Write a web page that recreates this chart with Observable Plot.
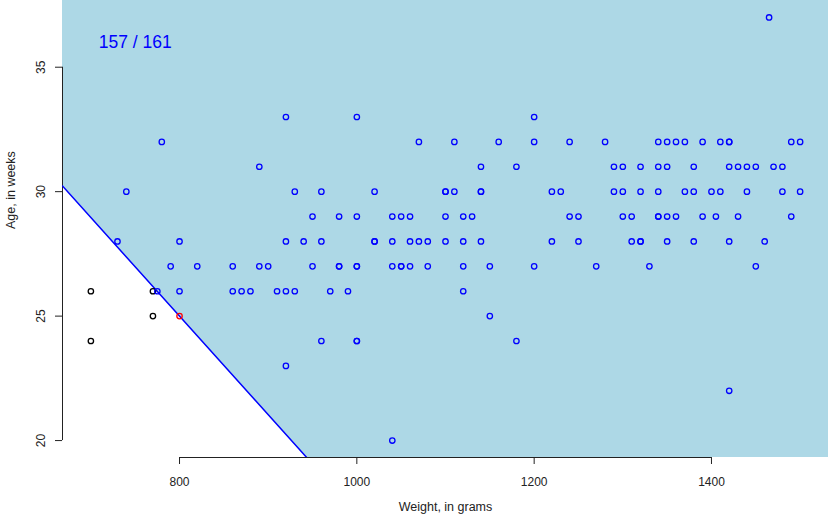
<!DOCTYPE html>
<html>
<head>
<meta charset="utf-8">
<script src="https://cdn.jsdelivr.net/npm/d3@7"></script>
<script src="https://cdn.jsdelivr.net/npm/@observablehq/plot@0.6"></script>
<style>
  html, body { margin: 0; padding: 0; background: white; }
</style>
</head>
<body>
<div id="chart"></div>
<script>
// ---- data ----
const xTicks = [800, 1000, 1200, 1400];
const yTicks = [20, 25, 30, 35];
const xDomain = [668, 1532];
const yDomain = [19.32, 37.68];

// separating line: age = intercept + slope * weight
const lineIntercept = 56.68;
const lineSlope = -0.0396;

// points above the line (blue)
const blueWeight = [
  1465,
  920, 1000, 1200,
  780, 1070, 1110, 1160, 1200, 1240, 1280, 1340, 1350, 1360, 1370, 1390, 1410, 1420, 1420, 1490, 1500,
  890, 1140, 1180, 1290, 1300, 1320, 1340, 1350, 1380, 1420, 1430, 1440, 1450, 1470, 1480,
  740, 930, 960, 1020, 1100, 1100, 1110, 1140, 1140, 1220, 1230, 1290, 1300, 1320, 1340, 1370, 1380, 1400, 1410, 1440, 1480, 1500,
  950, 980, 1000, 1040, 1050, 1060, 1100, 1120, 1130, 1240, 1250, 1300, 1310, 1340, 1340, 1350, 1360, 1390, 1405, 1430, 1490,
  730, 800, 920, 940, 960, 1020, 1020, 1040, 1060, 1070, 1080, 1100, 1120, 1140, 1220, 1250, 1310, 1320, 1320, 1350, 1380, 1420, 1460,
  790, 820, 860, 890, 900, 950, 980, 980, 1000, 1000, 1040, 1050, 1050, 1060, 1080, 1120, 1150, 1200, 1270, 1330, 1450,
  775, 800, 860, 870, 880, 910, 920, 930, 970, 990, 1120,
  1150,
  960, 1000, 1000, 1180,
  920,
  1420,
  1040
];
const blueAge = [
  37,
  33, 33, 33,
  32, 32, 32, 32, 32, 32, 32, 32, 32, 32, 32, 32, 32, 32, 32, 32, 32,
  31, 31, 31, 31, 31, 31, 31, 31, 31, 31, 31, 31, 31, 31, 31,
  30, 30, 30, 30, 30, 30, 30, 30, 30, 30, 30, 30, 30, 30, 30, 30, 30, 30, 30, 30, 30, 30,
  29, 29, 29, 29, 29, 29, 29, 29, 29, 29, 29, 29, 29, 29, 29, 29, 29, 29, 29, 29, 29,
  28, 28, 28, 28, 28, 28, 28, 28, 28, 28, 28, 28, 28, 28, 28, 28, 28, 28, 28, 28, 28, 28, 28,
  27, 27, 27, 27, 27, 27, 27, 27, 27, 27, 27, 27, 27, 27, 27, 27, 27, 27, 27, 27, 27,
  26, 26, 26, 26, 26, 26, 26, 26, 26, 26, 26,
  25,
  24, 24, 24, 24,
  23,
  22,
  20
];

// points below the line (black) and the highlighted point (red)
const blackWeight = [700, 700, 770, 770];
const blackAge = [26, 24, 26, 25];
const redWeight = [800];
const redAge = [25];

const scoreText = "157 / 161";
const scoreX = 750;
const scoreY = 36;

const xTitle = "Weight, in grams";
const yTitle = "Age, in weeks";

// ---- build ----
const toPts = (ws, as) => ws.map((w, i) => ({w, a: as[i]}));
const blue = toPts(blueWeight, blueAge);
const black = toPts(blackWeight, blackAge);
const red = toPts(redWeight, redAge);
const lineY = (w) => lineIntercept + lineSlope * w;

const dotOpts = {x: "w", y: "a", r: 2.7, strokeWidth: 1.3, fill: "none"};

const chart = Plot.plot({
  width: 828,
  height: 517,
  marginLeft: 62,
  marginRight: 0,
  marginTop: 0,
  marginBottom: 60,
  x: {domain: xDomain},
  y: {domain: yDomain},
  style: {fontFamily: "'Liberation Sans', Arial, Helvetica, sans-serif", fontSize: "12px", color: "#222", background: "white"},
  marks: [
    Plot.areaY(xDomain, {x: (d) => d, y1: (d) => lineY(d), y2: () => yDomain[1], fill: "lightblue", clip: true}),
    Plot.ruleX([xDomain[0]], {y1: d3.min(yTicks), y2: d3.max(yTicks), stroke: "#222"}),
    Plot.ruleY([yDomain[0]], {x1: d3.min(xTicks), x2: d3.max(xTicks), stroke: "#222"}),
    Plot.axisX({ticks: xTicks, tickFormat: (d) => String(d), tickSize: 7, tickPadding: 12.5, label: null, fontSize: 12}),
    Plot.axisY({ticks: yTicks, tickFormat: (d) => String(d), tickSize: 7, tickRotate: -90, tickPadding: 10.7, label: null, fontSize: 12}),
    Plot.line(xDomain, {x: (d) => d, y: (d) => lineY(d), stroke: "blue", strokeWidth: 1.5, clip: true}),
    Plot.dot(black, {...dotOpts, stroke: "black"}),
    Plot.dot(blue, {...dotOpts, stroke: "blue"}),
    Plot.dot(red, {...dotOpts, stroke: "red"}),
    Plot.text([scoreText], {x: () => scoreX, y: () => scoreY, text: (d) => d, fill: "blue", fontSize: 17.5}),
    Plot.text([xTitle], {frameAnchor: "bottom", dy: 53, text: (d) => d, fontSize: 12.5}),
    Plot.text([yTitle], {frameAnchor: "left", dx: -52, rotate: -90, text: (d) => d, fontSize: 12.5})
  ]
});
document.getElementById("chart").appendChild(chart);
</script>
</body>
</html>
